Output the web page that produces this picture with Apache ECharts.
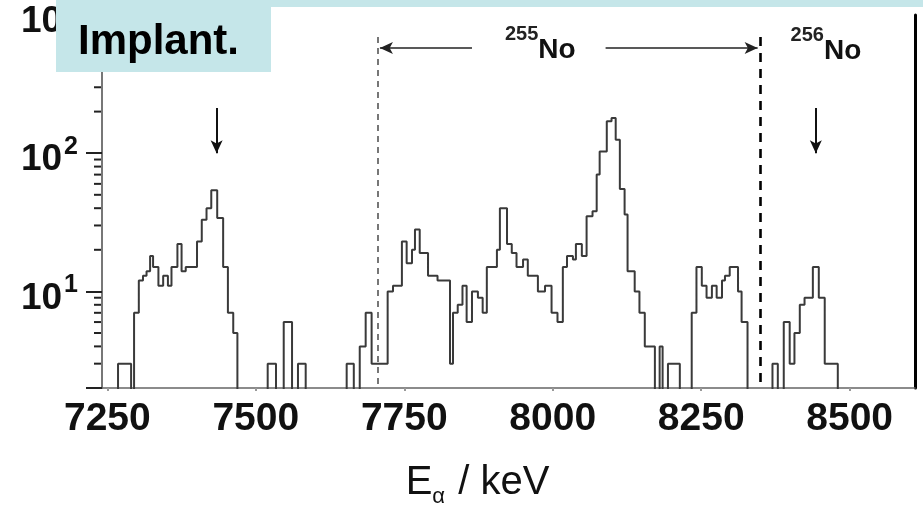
<!DOCTYPE html>
<html><head><meta charset="utf-8">
<script src="https://cdn.jsdelivr.net/npm/echarts@6/dist/echarts.min.js"></script>
<style>html,body{margin:0;padding:0;background:#fff}#c{width:923px;height:513px}</style>
</head><body><div id="c"></div>
<script>
// ---- data (left bin edge in keV, counts held until next edge; 1 = below axis) ----
const binEdges = [7241,7268,7290,7295,7303,7310,7316,7322,7327,7336,7344,7352,7358,7368,7375,7382,7401,7409,7417,7425,7435,7445,7453,7462,7469,
  7520,7534,7547,7561,7571,7584,7653,7665,7675,7685,7695,7722,7731,7746,7754,7763,7768,7776,7790,7806,7827,7832,7840,7848,7855,7864,7874,7882,7889,
  7906,7911,7923,7931,7939,7950,7958,7975,7987,7998,8008,8017,8024,8034,8039,8049,8057,8067,8074,8079,8091,8099,8106,8113,8121,8126,8138,8146,8155,
  8172,8180,8185,8194,8214,8234,8242,8251,8259,8268,8276,8285,8290,8298,8312,8318,8328,8370,8379,8389,8399,8407,8416,8424,8438,8448,8458,8480,8610];
const binCounts = [1,3,1,7,12,13,14,18,15,11,13,11,15,22,14,15,23,33,40,54,34,15,7,5,1,
  3,1,6,1,3,1,3,1,4,7,3,10,11,23,16,20,28,19,13,12,3,7,8,11,6,10,9,7,15,
  20,40,22,19,15,17,13,10,11,7,6,15,18,17,22,18,35,38,70,103,170,180,125,55,36,14,10,7,4,
  1,4,1,3,1,7,15,11,9,11,9,12,13,15,10,6,1,3,1,6,3,5,8,9,15,9,3,1,1];
const xTicks = [7250,7500,7750,8000,8250,8500];
const yMinorTicks = [3,4,5,6,7,8,9,20,30,40,50,60,70,80,90,200,300,400,500,600,700,800,900];
const regionBounds = [7705,8349];      // 255No window (dashed lines)
const peakArrows = [7434,8443];        // down arrows
const isotopeLabels = [{mass:'255', x:7979, y:559}, {mass:'256', x:8460, y:550}];

const X_MIN = 7241, X_MAX = 8610, Y_MIN = 2, Y_MAX = 1000;
const SANS = '"Liberation Sans",Arial,sans-serif';

const histData = binEdges.map((e,i)=>[e, binCounts[i]]);

const chart = echarts.init(document.getElementById('c'));
const arrowHead = {symbol:'arrow', symbolSize:[9,13]};
chart.setOption({
  animation:false,
  backgroundColor:'#fff',
  grid:{left:102, right:8, top:15, bottom:125, outerBoundsMode:'none', containLabel:false},
  xAxis:{
    type:'value', min:X_MIN, max:X_MAX,
    splitLine:{show:false},
    axisLine:{show:true, lineStyle:{color:'#666', width:1.5}},
    axisTick:{show:true, customValues:xTicks, length:3, inside:false, lineStyle:{color:'#999', width:2}},
    axisLabel:{customValues:xTicks, margin:12, formatter:v=>String(v), fontFamily:SANS, fontWeight:'bold', fontSize:39, color:'#111'},
    name:'{e|E}{a|α}{k| / keV}', nameLocation:'middle', nameGap:70,
    nameTextStyle:{padding:[0,62,0,0], rich:{
      e:{fontFamily:SANS, fontSize:40, color:'#111', lineHeight:50},
      a:{fontFamily:SANS, fontSize:22, color:'#111', verticalAlign:'bottom', lineHeight:20, padding:[0,2,0,0]},
      k:{fontFamily:SANS, fontSize:40, color:'#111', lineHeight:50}
    }}
  },
  yAxis:[{
    type:'log', logBase:10, min:Y_MIN, max:Y_MAX,
    splitLine:{show:false},
    axisLine:{show:true, lineStyle:{color:'#777', width:2}},
    axisTick:{show:true, length:16, lineStyle:{color:'#222', width:2}},
    axisLabel:{margin:24, padding:[14,0,0,0], formatter:function(v){
        const ex = Math.round(Math.log10(v));
        if (Math.abs(v - Math.pow(10,ex)) > 1e-6 * v) return '';
        return '{b|10}{s|' + ex + '}';
      },
      rich:{
        b:{fontFamily:SANS, fontWeight:'bold', fontSize:37, lineHeight:52, color:'#111'},
        s:{fontFamily:SANS, fontWeight:'bold', fontSize:25, lineHeight:25, verticalAlign:'top', color:'#111', padding:[0,0,0,2]}
      }}
  },{
    type:'log', logBase:10, min:Y_MIN, max:Y_MAX, position:'right',
    splitLine:{show:false}, axisTick:{show:false}, axisLabel:{show:false},
    axisLine:{show:true, lineStyle:{color:'#000', width:3}}
  }],
  series:[{
    type:'line', step:'end', data:histData, showSymbol:false, symbol:'none', clip:true,
    lineStyle:{color:'#3a3a3a', width:2},
    markLine:{
      silent:true, animation:false, symbol:['none','none'], label:{show:false},
      emphasis:{disabled:true},
      data:[
        [{coord:[regionBounds[0],693], lineStyle:{type:[6,5], color:'#555', width:1.6}}, {coord:[regionBounds[0],Y_MIN]}],
        [{coord:[regionBounds[1],693], lineStyle:{type:[9,7], color:'#000', width:2.6}}, {coord:[regionBounds[1],Y_MIN]}],
        [{coord:[7864,577], lineStyle:{type:'solid', color:'#222', width:1.5}}, Object.assign({coord:[regionBounds[0]+4,577]}, arrowHead)],
        [{coord:[8089,577], lineStyle:{type:'solid', color:'#222', width:1.5}}, Object.assign({coord:[regionBounds[1]-4,577]}, arrowHead)],
        [{coord:[peakArrows[0],212], lineStyle:{type:'solid', color:'#111', width:2}}, Object.assign({coord:[peakArrows[0],100]}, arrowHead)],
        [{coord:[peakArrows[1],212], lineStyle:{type:'solid', color:'#111', width:2}}, Object.assign({coord:[peakArrows[1],100]}, arrowHead)]
      ]
    },
    markPoint:{
      silent:true, animation:false, symbol:'circle', symbolSize:0,
      data: isotopeLabels.map(l=>({coord:[l.x,l.y], symbolSize:0,
        label:{show:true, position:'inside', formatter:'{s|'+l.mass+'}{b|No}',
          rich:{
            s:{fontFamily:SANS, fontWeight:'bold', fontSize:20, lineHeight:20, verticalAlign:'top', color:'#222'},
            b:{fontFamily:SANS, fontWeight:'bold', fontSize:28, lineHeight:50, color:'#111'}
          }}}))
    }
  },{
    type:'custom', coordinateSystem:'cartesian2d', silent:true, clip:false,
    data: yMinorTicks.map(v=>[X_MIN, v]),
    renderItem:function(params, api){
      const p = api.coord([api.value(0), api.value(1)]);
      return {type:'line', shape:{x1:p[0]-8, y1:p[1], x2:p[0]-1, y2:p[1]}, style:{stroke:'#222', lineWidth:2}};
    }
  }],
  graphic:[
    {type:'rect', z:100, left:56, top:0, shape:{width:867, height:7}, style:{fill:'#c5e6e9'}},
    {type:'rect', z:100, left:56, top:0, shape:{width:215, height:72}, style:{fill:'#c5e6e9'}},
    {type:'text', z:101, left:78, top:21, style:{text:'Implant.', font:'bold 42px "Liberation Sans", Arial, sans-serif', fill:'#000'}}
  ]
});
</script></body></html>
